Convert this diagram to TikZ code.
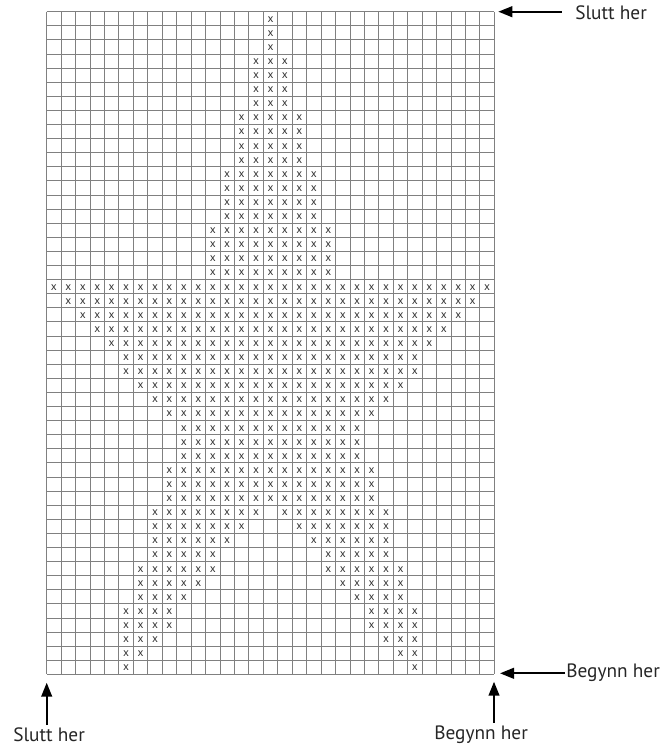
\documentclass[tikz,border=0pt]{standalone}
\usepackage{fontspec}
\setmainfont{PT Sans}
\usetikzlibrary{arrows.meta}
\begin{document}
\begin{tikzpicture}[x=0.75pt,y=-0.75pt,
  gridline/.style={draw=black!50,line width=0.6pt},
  xm/.style={inner sep=0pt,text=black!80,font=\fontsize{8.6}{9}\selectfont},
  lbl/.style={inner sep=0pt,font=\fontsize{14.5}{16}\selectfont,text=black!85},
  arr/.style={line width=1.6pt,-{Triangle[length=10.5pt,width=8pt]}}]
\useasboundingbox (0,0) rectangle (663,752);
\def\gx{46.7}\def\gy{11.7}\def\cw{14.439}\def\rh{14.098}
% grid
\foreach \i in {0,...,31} \draw[gridline] ({\gx+\i*\cw},\gy) -- ({\gx+\i*\cw},674.3);
\foreach \j in {0,...,47} \draw[gridline] (\gx,{\gy+\j*\rh}) -- (494.3,{\gy+\j*\rh});
% marks
\foreach \r/\a/\b in {0/15/15,1/15/15,2/15/15,
 3/14/16,4/14/16,5/14/16,6/14/16,
 7/13/17,8/13/17,9/13/17,10/13/17,
 11/12/18,12/12/18,13/12/18,14/12/18,
 15/11/19,16/11/19,17/11/19,18/11/19,
 19/0/30,20/1/29,21/2/28,22/3/27,23/4/26,24/5/25,25/5/25,26/6/24,27/7/23,28/8/22,
 29/9/21,30/9/21,31/9/21,32/8/22,33/8/22,34/8/22,
 35/7/14,35/16/23,36/7/13,36/17/23,37/7/12,37/18/23,38/7/11,38/19/23,
 39/6/11,39/19/24,40/6/10,40/20/24,41/6/9,41/21/24,
 42/5/8,42/22/25,43/5/8,43/22/25,44/5/7,44/23/25,45/5/6,45/24/25,46/5/5,46/25/25}
 {\foreach \c in {\a,...,\b}
   {\node[xm] (x\r-\c) at ({\gx+(\c+0.5)*\cw},{\gy+(\r+0.5)*\rh+0.6}) {x};}}
% labels
\node[lbl,anchor=base west] (sluttTop) at (575,20) {Slutt her};
\node[lbl,anchor=base west] (begRight) at (566,677.5) {Begynn her};
\node[lbl,anchor=base west] (sluttBot) at (13,741.7) {Slutt her};
\node[lbl,anchor=base west] (begBot) at (434,739) {Begynn her};
% arrows
\coordinate (t1) at (561.7,11.7); \coordinate (h1) at (498.3,11.7);
\coordinate (t2) at (565,673.3);  \coordinate (h2) at (500,673.3);
\coordinate (t3) at (46.7,725);   \coordinate (h3) at (46.7,682.7);
\coordinate (t4) at (494,722.7);  \coordinate (h4) at (494,681.7);
\draw[arr] (t1) -- (h1);
\draw[arr] (t2) -- (h2);
\draw[arr] (t3) -- (h3);
\draw[arr] (t4) -- (h4);
\end{tikzpicture}
\end{document}
